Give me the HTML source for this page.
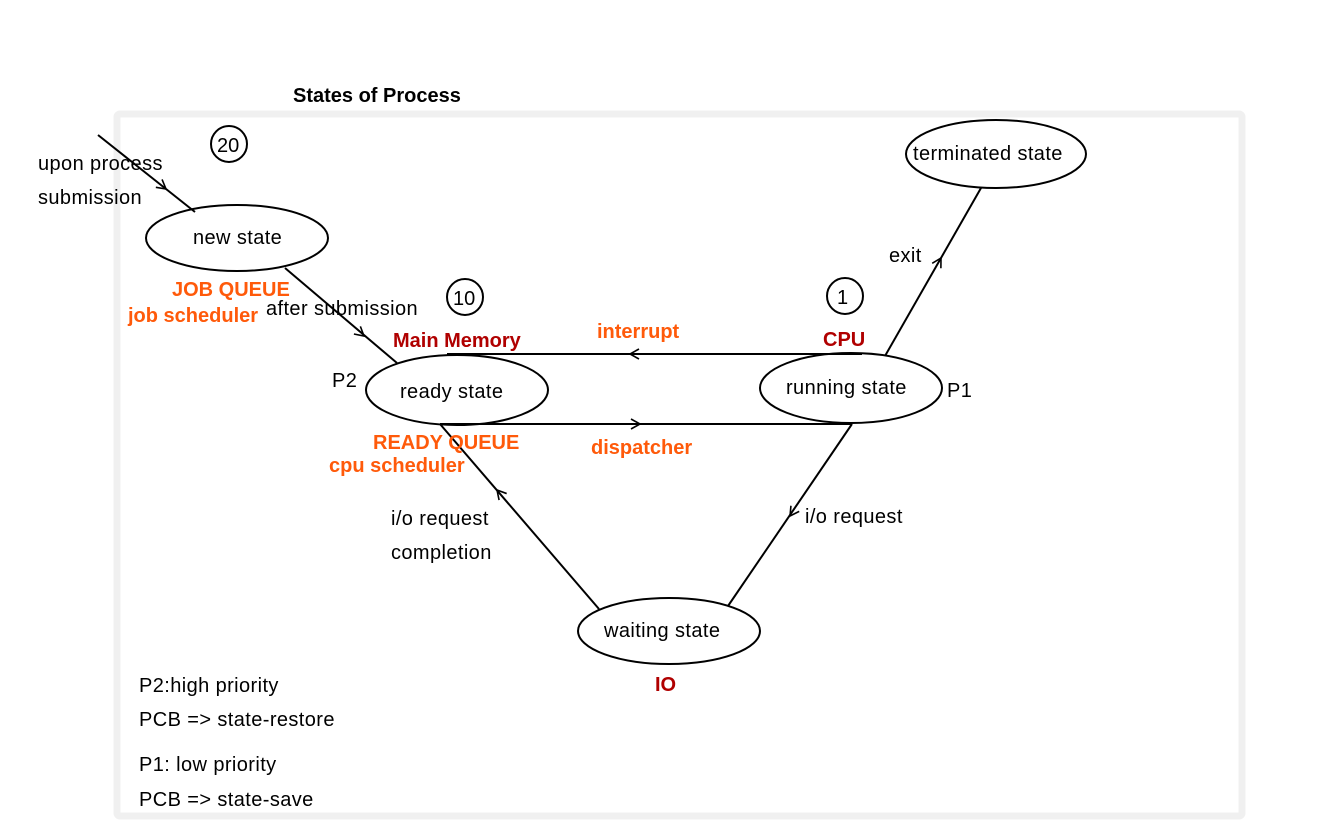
<!DOCTYPE html>
<html><head><meta charset="utf-8"><style>
html,body{margin:0;padding:0;background:#fff;}
svg{display:block;}
text{font-family:"Liberation Sans",sans-serif;font-size:20px;fill:#000;letter-spacing:0.4px;}
.o{fill:#ff5a0a;font-weight:bold;letter-spacing:0;}
.r{fill:#b00000;font-weight:bold;letter-spacing:0;}
</style></head><body>
<svg width="1338" height="838" viewBox="0 0 1338 838">
<rect x="117" y="114" width="1125" height="702" fill="none" stroke="#f0f0f0" stroke-width="7" rx="3"/>
<text x="293" y="102" style="font-weight:bold;font-size:20px;letter-spacing:0">States of Process</text>
<g fill="none" stroke="#000" stroke-width="2">
<ellipse cx="237" cy="238" rx="91" ry="33"/>
<ellipse cx="457" cy="390" rx="91" ry="35"/>
<ellipse cx="851" cy="388" rx="91" ry="35"/>
<ellipse cx="996" cy="154" rx="90" ry="34"/>
<ellipse cx="669" cy="631" rx="91" ry="33"/>
<circle cx="229" cy="144" r="18"/>
<circle cx="465" cy="297" r="18"/>
<circle cx="845" cy="296" r="18"/>
<line x1="98" y1="135" x2="195" y2="212"/>
<line x1="285" y1="268" x2="397" y2="363"/>
<line x1="447" y1="354" x2="862" y2="354"/>
<line x1="440" y1="424" x2="852" y2="424"/>
<line x1="885" y1="356" x2="981" y2="188"/>
<line x1="852" y1="424" x2="728" y2="606"/>
<line x1="599" y1="609" x2="440" y2="424"/>
</g>
<g fill="none" stroke="#000" stroke-width="1.6">
<path d="M-9,-5 L0,0 L-9,5" transform="translate(166,189) rotate(38.4)"/>
<path d="M-9,-5 L0,0 L-9,5" transform="translate(364,336) rotate(40.3)"/>
<path d="M-9,-5 L0,0 L-9,5" transform="translate(630,354) rotate(180)"/>
<path d="M-9,-5 L0,0 L-9,5" transform="translate(640,424)"/>
<path d="M-9,-5 L0,0 L-9,5" transform="translate(941,258) rotate(-60.3)"/>
<path d="M-9,-5 L0,0 L-9,5" transform="translate(790,516) rotate(124.3)"/>
<path d="M-9,-5 L0,0 L-9,5" transform="translate(497,490) rotate(-130.7)"/>
</g>
<text x="38" y="170">upon process</text>
<text x="38" y="204">submission</text>
<text x="193" y="244">new state</text>
<text x="217" y="152" style="letter-spacing:0">20</text>
<text x="453" y="305" style="letter-spacing:0">10</text>
<text x="837" y="304">1</text>
<text x="913" y="160">terminated state</text>
<text x="889" y="262">exit</text>
<text x="172" y="296" class="o">JOB QUEUE</text>
<text x="128" y="322" class="o">job scheduler</text>
<text x="266" y="315">after submission</text>
<text x="393" y="347" class="r">Main Memory</text>
<text x="597" y="338" class="o">interrupt</text>
<text x="823" y="346" class="r">CPU</text>
<text x="332" y="387">P2</text>
<text x="400" y="398">ready state</text>
<text x="786" y="394">running state</text>
<text x="947" y="397">P1</text>
<text x="373" y="449" class="o">READY QUEUE</text>
<text x="329" y="472" class="o">cpu scheduler</text>
<text x="591" y="454" class="o">dispatcher</text>
<text x="391" y="525">i/o request</text>
<text x="391" y="559">completion</text>
<text x="805" y="523">i/o request</text>
<text x="604" y="637">waiting state</text>
<text x="655" y="691" class="r">IO</text>
<text x="139" y="692">P2:high priority</text>
<text x="139" y="726">PCB =&gt; state-restore</text>
<text x="139" y="771">P1: low priority</text>
<text x="139" y="806">PCB =&gt; state-save</text>
</svg>
</body></html>
